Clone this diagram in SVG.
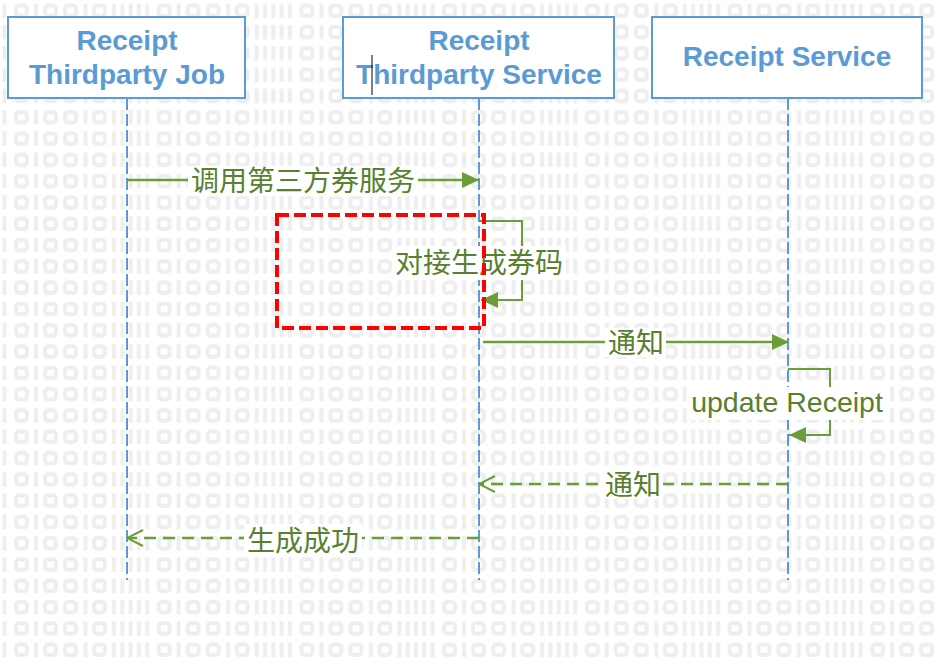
<svg xmlns="http://www.w3.org/2000/svg" width="937" height="658" viewBox="0 0 937 658">
<style>
.hdr{fill:#fff;stroke:#5b9bd5;stroke-width:2}
.ht{font-family:"Liberation Sans",Arial,sans-serif;font-weight:bold;font-size:28px;fill:#5b9bd5;text-anchor:middle}
.life{stroke:#5b9bd5;stroke-width:2;stroke-dasharray:12 4;fill:none}
.msg{stroke:#6a9e3a;stroke-width:2.5;fill:none}
.ret{stroke:#6a9e3a;stroke-width:2.5;fill:none;stroke-dasharray:12 7}
.self{stroke:#6a9e3a;stroke-width:2;fill:none}
.lbl{font-family:"Noto Sans CJK SC","Noto Sans",sans-serif;font-size:28px;fill:#58802e;text-anchor:middle}
.lbe{font-family:"Liberation Sans",Arial,sans-serif;font-size:28.5px;fill:#58802e;text-anchor:middle}
.bgw{fill:#fff}
.o{fill:none;stroke:#eeeeee;stroke-width:4}
.i{fill:#eeeeee}
</style>
<defs>
<pattern id="bg" patternUnits="userSpaceOnUse" x="14" y="3.5" width="142.7" height="21.3">
<rect class="o" x="2" y="2" width="11" height="10.5" rx="3"/>
<rect class="o" x="31" y="2" width="11" height="10.5" rx="3"/>
<rect class="o" x="51" y="2" width="11" height="10.5" rx="3"/>
<rect class="o" x="80" y="2" width="11" height="10.5" rx="3"/>
<rect class="i" x="20" y="0" width="4" height="14.5"/>
<rect class="i" x="69.5" y="0" width="4" height="14.5"/>
<rect class="i" x="98" y="0" width="4" height="14.5"/>
<rect class="i" x="106.3" y="0" width="4" height="14.5"/>
<rect class="i" x="114.6" y="0" width="4" height="14.5"/>
<rect class="i" x="122.9" y="0" width="4" height="14.5"/>
<rect class="i" x="131.2" y="0" width="4" height="14.5"/>
</pattern>
<marker id="fa" viewBox="0 0 17 16" refX="17" refY="8" markerWidth="17" markerHeight="16" markerUnits="userSpaceOnUse" orient="auto">
<path d="M0,0 L17,8 L0,16 Z" fill="#6a9e3a"/>
</marker>
<marker id="oa" viewBox="0 0 18 18" refX="17" refY="9" markerWidth="18" markerHeight="18" markerUnits="userSpaceOnUse" orient="auto">
<path d="M1,1 L17,9 L1,17" fill="none" stroke="#6a9e3a" stroke-width="2"/>
</marker>
</defs>
<rect width="937" height="658" fill="#ffffff"/>
<rect width="937" height="658" fill="url(#bg)"/>

<g id="lifelines">
<line class="life" x1="127" y1="98" x2="127" y2="580"/>
<line class="life" x1="479" y1="98" x2="479" y2="580"/>
<line class="life" x1="788" y1="98" x2="788" y2="580"/>
</g>

<g id="node-job">
<rect class="hdr" x="8" y="17" width="237" height="81"/>
<text class="ht" x="127" y="50">Receipt</text>
<text class="ht" x="127" y="84">Thirdparty Job</text>
</g>
<g id="node-thirdparty-service">
<rect class="hdr" x="343" y="17" width="271" height="81"/>
<text class="ht" x="479" y="50">Receipt</text>
<text class="ht" x="479" y="84">Thirdparty Service</text>
<line x1="372" y1="55" x2="372" y2="95" stroke="#000" stroke-width="1"/>
</g>
<g id="node-receipt-service">
<rect class="hdr" x="652" y="17" width="270" height="81"/>
<text class="ht" x="787" y="66">Receipt Service</text>
</g>

<g id="connectors">
<line class="msg" x1="127" y1="180" x2="479" y2="180" marker-end="url(#fa)"/>
<rect class="bgw" x="188" y="166" width="230" height="30"/>
<text class="lbl" x="303" y="191">调用第三方券服务</text>

<path class="self" d="M479,221 H522 V300 H481" marker-end="url(#fa)"/>
<rect class="bgw" x="392" y="246" width="174" height="34"/>
<text class="lbl" x="479" y="273">对接生成券码</text>

<line class="msg" x1="483" y1="342" x2="789" y2="342" marker-end="url(#fa)"/>
<rect class="bgw" x="605" y="328" width="61" height="29"/>
<text class="lbl" x="636" y="353">通知</text>

<path class="self" d="M788,369 H830 V435 H789" marker-end="url(#fa)"/>
<rect class="bgw" x="688" y="387" width="198" height="33"/>
<text class="lbe" x="787" y="412">update Receipt</text>

<line class="ret" x1="788" y1="484" x2="479" y2="484" marker-end="url(#oa)"/>
<rect class="bgw" x="602" y="470" width="61" height="29"/>
<text class="lbl" x="633" y="495">通知</text>

<line class="ret" x1="479" y1="538" x2="127" y2="538" marker-end="url(#oa)"/>
<rect class="bgw" x="244" y="524" width="118" height="31"/>
<text class="lbl" x="303" y="551">生成成功</text>
</g>

<g id="highlight">
<rect x="277" y="215" width="207" height="113" fill="none" stroke="#ff0000" stroke-width="4" stroke-dasharray="12 5"/>
</g>
</svg>
